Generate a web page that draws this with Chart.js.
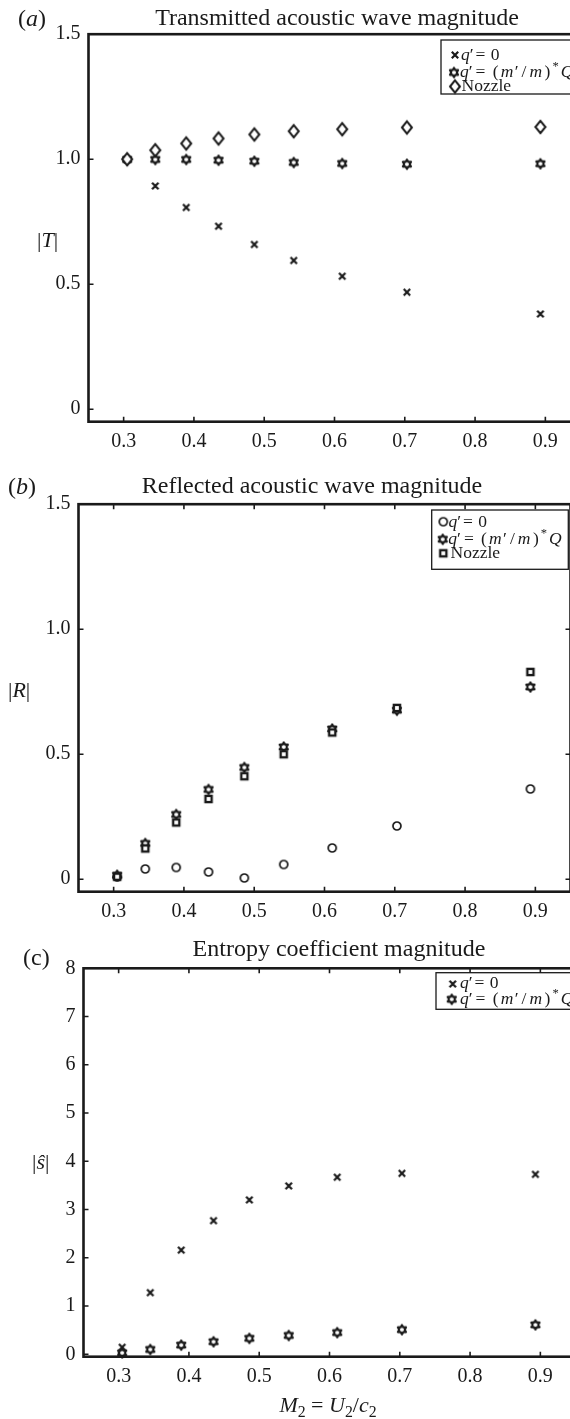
<!DOCTYPE html>
<html>
<head>
<meta charset="utf-8">
<script src="https://cdn.jsdelivr.net/npm/chart.js@4.4.1/dist/chart.umd.min.js"></script>
<style>
  html, body { margin: 0; padding: 0; background: #fff; overflow: hidden; width: 570px; height: 1419px; }
  .panel { position: absolute; left: 0; }
</style>
</head>
<body>
<canvas id="panelA" class="panel" width="600" height="470" style="top:0"></canvas>
<canvas id="panelB" class="panel" width="600" height="470" style="top:470px"></canvas>
<canvas id="panelC" class="panel" width="600" height="479" style="top:940px"></canvas>
<script>
// values
const machNumbers = [0.305, 0.345, 0.389, 0.435, 0.486, 0.542, 0.611, 0.703, 0.893];
const xTickValues = [0.3, 0.4, 0.5, 0.6, 0.7, 0.8, 0.9];
const xTickLabels = ['0.3', '0.4', '0.5', '0.6', '0.7', '0.8', '0.9'];

const magTickValues = [0, 0.5, 1.0, 1.5];
const magTickLabels = ['0', '0.5', '1.0', '1.5'];
const entropyTickValues = [0, 1, 2, 3, 4, 5, 6, 7, 8];
const entropyTickLabels = ['0', '1', '2', '3', '4', '5', '6', '7', '8'];

const transmittedNoHeat = [0.998, 0.893, 0.807, 0.732, 0.659, 0.595, 0.532, 0.468, 0.381];
const transmittedMassHeat = [0.999, 0.999, 0.999, 0.996, 0.992, 0.987, 0.983, 0.980, 0.982];
const transmittedNozzle = [1.0, 1.036, 1.063, 1.083, 1.099, 1.112, 1.120, 1.127, 1.129];

const reflectedNoHeat = [0.009, 0.041, 0.047, 0.029, 0.005, 0.059, 0.125, 0.213, 0.361];
const reflectedMassHeat = [0.016, 0.143, 0.259, 0.359, 0.447, 0.529, 0.601, 0.676, 0.769];
const reflectedNozzle = [0.010, 0.123, 0.227, 0.321, 0.412, 0.500, 0.587, 0.685, 0.829];

const entropyNoHeat = [0.145, 1.277, 2.16, 2.77, 3.2, 3.49, 3.67, 3.75, 3.73];
const entropyMassHeat = [0.03, 0.10, 0.19, 0.26, 0.33, 0.39, 0.45, 0.51, 0.61];

const INK = '#1a1a1a';
const SERIF = '"Liberation Serif", "Times New Roman", serif';

function setFont(ctx, size, italic) {
  ctx.font = (italic ? 'italic ' : '') + size + 'px ' + SERIF;
}

// draw a line of text made of roman / italic / sub / sup pieces, plus small gaps
function drawRuns(ctx, x, y, size, runs, measureOnly) {
  let cx = x;
  runs.forEach(r => {
    if (r.gap) { cx += r.gap; return; }
    const s = (r.sub || r.sup) ? size * 0.72 : size;
    setFont(ctx, s, r.it);
    const dy = r.sub ? size * 0.25 : (r.sup ? -size * 0.4 : 0);
    if (!measureOnly) ctx.fillText(r.t, cx, y + dy);
    cx += ctx.measureText(r.t).width;
  });
  return cx - x;
}

function makeMarker(size, draw) {
  const c = document.createElement('canvas');
  c.width = size; c.height = size;
  const ctx = c.getContext('2d');
  ctx.translate(size / 2, size / 2);
  ctx.strokeStyle = INK;
  ctx.fillStyle = '#fff';
  draw(ctx);
  return c;
}

const crossMarker = makeMarker(12, ctx => {
  ctx.lineWidth = 2.2;
  ctx.beginPath();
  ctx.moveTo(-3.2, -3.2); ctx.lineTo(3.2, 3.2);
  ctx.moveTo(3.2, -3.2); ctx.lineTo(-3.2, 3.2);
  ctx.stroke();
});

const hexagramMarker = makeMarker(16, ctx => {
  const r = 4.7, ri = r / Math.sqrt(3);
  ctx.beginPath();
  for (let k = 0; k < 12; k++) {
    const a = -Math.PI / 2 + k * Math.PI / 6;
    const rr = k % 2 ? ri : r;
    ctx.lineTo(rr * Math.cos(a), rr * Math.sin(a));
  }
  ctx.closePath();
  ctx.fill();
  ctx.lineWidth = 2.1;
  ctx.lineJoin = 'round';
  ctx.stroke();
});

const diamondMarker = makeMarker(18, ctx => {
  ctx.beginPath();
  ctx.moveTo(0, -6.2); ctx.lineTo(5, 0); ctx.lineTo(0, 6.2); ctx.lineTo(-5, 0);
  ctx.closePath();
  ctx.fill();
  ctx.lineWidth = 2;
  ctx.stroke();
});

const circleMarker = makeMarker(14, ctx => {
  ctx.beginPath();
  ctx.arc(0, 0, 4, 0, Math.PI * 2);
  ctx.fill();
  ctx.lineWidth = 1.7;
  ctx.stroke();
});

const squareMarker = makeMarker(12, ctx => {
  ctx.fillRect(-3.1, -3.1, 6.2, 6.2);
  ctx.lineWidth = 2.4;
  ctx.strokeRect(-3.1, -3.1, 6.2, 6.2);
});

const qZero = [{ t: 'q', it: true }, { t: '′' }, { gap: 2 }, { t: '=' }, { gap: 1 }, { t: ' 0' }];
const qMass = [{ t: 'q', it: true }, { t: '′' }, { gap: 3 }, { t: '=' }, { gap: 3 }, { t: ' (' }, { gap: 2 },
  { t: 'm', it: true }, { gap: 1.5 }, { t: '′' }, { gap: 3 }, { t: '/' }, { gap: 3 }, { t: 'm', it: true },
  { gap: 2.5 }, { t: ')' }, { gap: 2 }, { t: '*', sup: true }, { gap: 2 }, { t: 'Q', it: true }];
const nozzleText = [{ t: 'Nozzle' }];

function framePlugin(cfg) {
  return {
    id: 'frame' + cfg.id,
    afterDraw(chart) {
      const { ctx, chartArea: a, scales } = chart;
      ctx.save();
      ctx.strokeStyle = INK;
      ctx.fillStyle = INK;

      // inward ticks on all sides
      const tl = 5;
      ctx.lineWidth = 1.6;
      ctx.beginPath();
      scales.x.ticks.forEach(t => {
        const px = scales.x.getPixelForValue(t.value);
        ctx.moveTo(px, a.bottom); ctx.lineTo(px, a.bottom - tl);
        if (cfg.topTicks) { ctx.moveTo(px, a.top); ctx.lineTo(px, a.top + tl); }
      });
      scales.y.ticks.forEach(t => {
        const py = scales.y.getPixelForValue(t.value);
        ctx.moveTo(a.left, py); ctx.lineTo(a.left + tl, py);
        ctx.moveTo(a.right, py); ctx.lineTo(a.right - tl, py);
      });
      ctx.stroke();
      ctx.lineWidth = 2.6;
      ctx.strokeRect(a.left, a.top, a.right - a.left, a.bottom - a.top);

      // panel tag and title
      ctx.textAlign = 'left';
      ctx.textBaseline = 'alphabetic';
      drawRuns(ctx, cfg.tag.x, cfg.tag.y, 24, cfg.tag.runs);
      setFont(ctx, 24, false);
      ctx.textAlign = 'center';
      ctx.fillText(cfg.title, cfg.titleX, cfg.titleY);
      ctx.textAlign = 'left';

      // axis labels
      drawRuns(ctx, cfg.yLabel.x, cfg.yLabel.y, 22, cfg.yLabel.runs);
      if (cfg.xLabel) {
        const w = drawRuns(ctx, 0, 0, 22, cfg.xLabel.runs, true);
        drawRuns(ctx, cfg.xLabel.cx - w / 2, cfg.xLabel.y, 22, cfg.xLabel.runs);
      }

      // legend box
      const lg = cfg.legend;
      ctx.fillStyle = '#fff';
      ctx.fillRect(lg.x, lg.y, lg.w, lg.h);
      ctx.lineWidth = 1.3;
      ctx.strokeRect(lg.x, lg.y, lg.w, lg.h);
      ctx.fillStyle = INK;
      lg.rows.forEach(row => {
        ctx.drawImage(row.marker, row.mx - row.marker.width / 2, row.my - row.marker.height / 2);
        drawRuns(ctx, row.tx, row.ty, 17.5, row.runs);
      });
      ctx.restore();
    }
  };
}

function buildPanel(cfg) {
  const canvas = document.getElementById(cfg.id);
  const H = canvas.height;
  const tickFont = { family: SERIF, size: 20 };
  return new Chart(canvas, {
    type: 'scatter',
    data: {
      datasets: cfg.series.map((s, i) => ({
        label: s.label,
        data: machNumbers.map((m, j) => ({ x: m, y: s.values[j] })),
        pointStyle: s.marker,
        pointRadius: 6,
        order: cfg.series.length - i,
        clip: false
      }))
    },
    options: {
      responsive: false,
      animation: false,
      devicePixelRatio: 1,
      events: [],
      layout: { padding: { top: cfg.area.top, right: canvas.width - cfg.area.right, left: 0, bottom: 0 } },
      plugins: { legend: { display: false }, tooltip: { enabled: false } },
      scales: {
        x: {
          type: 'linear', min: 0.25, max: 0.95,
          grid: { display: false, drawTicks: false }, border: { display: false },
          ticks: { font: tickFont, color: INK, padding: 8, maxRotation: 0, autoSkip: false,
            callback: (v, i) => xTickLabels[i] },
          afterBuildTicks: s => { s.ticks = xTickValues.map(v => ({ value: v })); },
          afterFit: s => { s.height = H - cfg.area.bottom; }
        },
        y: {
          type: 'linear', min: cfg.yMin, max: cfg.yMax,
          grid: { display: false, drawTicks: false }, border: { display: false },
          ticks: { font: tickFont, color: INK, padding: 8, autoSkip: false,
            callback: (v, i) => cfg.yTickLabels[i] },
          afterBuildTicks: s => { s.ticks = cfg.yTickValues.map(v => ({ value: v })); },
          afterFit: s => { s.width = cfg.area.left; }
        }
      }
    },
    plugins: [framePlugin(cfg)]
  });
}

buildPanel({
  id: 'panelA',
  area: { left: 88.5, right: 580.5, top: 34.2, bottom: 421.7 },
  yMin: -0.05, yMax: 1.5,
  yTickValues: magTickValues, yTickLabels: magTickLabels,
  topTicks: false,
  series: [
    { label: "q' = 0", values: transmittedNoHeat, marker: crossMarker },
    { label: "q' = (m'/m)*Q", values: transmittedMassHeat, marker: hexagramMarker },
    { label: 'Nozzle', values: transmittedNozzle, marker: diamondMarker }
  ],
  tag: { x: 18, y: 26, runs: [{ t: '(' }, { t: 'a', it: true }, { t: ')' }] },
  title: 'Transmitted acoustic wave magnitude', titleX: 337, titleY: 25,
  yLabel: { x: 37, y: 247, runs: [{ t: '|' }, { t: 'T', it: true }, { t: '|' }] },
  legend: {
    x: 441, y: 40, w: 170, h: 54,
    rows: [
      { marker: crossMarker, mx: 455, my: 55, tx: 461, ty: 59.5, runs: qZero },
      { marker: hexagramMarker, mx: 454, my: 72.5, tx: 460, ty: 77, runs: qMass },
      { marker: diamondMarker, mx: 455, my: 86.5, tx: 461.5, ty: 91, runs: nozzleText }
    ]
  }
});

buildPanel({
  id: 'panelB',
  area: { left: 78.5, right: 570.5, top: 34.2, bottom: 421.7 },
  yMin: -0.05, yMax: 1.5,
  yTickValues: magTickValues, yTickLabels: magTickLabels,
  topTicks: true,
  series: [
    { label: "q' = 0", values: reflectedNoHeat, marker: circleMarker },
    { label: "q' = (m'/m)*Q", values: reflectedMassHeat, marker: hexagramMarker },
    { label: 'Nozzle', values: reflectedNozzle, marker: squareMarker }
  ],
  tag: { x: 8, y: 24, runs: [{ t: '(' }, { t: 'b', it: true }, { t: ')' }] },
  title: 'Reflected acoustic wave magnitude', titleX: 312, titleY: 22.7,
  yLabel: { x: 8, y: 227, runs: [{ t: '|' }, { t: 'R', it: true }, { t: '|' }] },
  legend: {
    x: 431.7, y: 40, w: 136.6, h: 59.3,
    rows: [
      { marker: circleMarker, mx: 443.3, my: 51.7, tx: 448.5, ty: 56.7, runs: qZero },
      { marker: hexagramMarker, mx: 442.7, my: 69.3, tx: 448.3, ty: 74, runs: qMass },
      { marker: squareMarker, mx: 443.3, my: 83.3, tx: 450.5, ty: 88.3, runs: nozzleText }
    ]
  }
});

buildPanel({
  id: 'panelC',
  area: { left: 83.5, right: 575.5, top: 28.3, bottom: 416.7 },
  yMin: -0.05, yMax: 8,
  yTickValues: entropyTickValues, yTickLabels: entropyTickLabels,
  topTicks: true,
  series: [
    { label: "q' = 0", values: entropyNoHeat, marker: crossMarker },
    { label: "q' = (m'/m)*Q", values: entropyMassHeat, marker: hexagramMarker }
  ],
  tag: { x: 23, y: 25, runs: [{ t: '(c)' }] },
  title: 'Entropy coefficient magnitude', titleX: 339, titleY: 16,
  yLabel: { x: 32, y: 229, runs: [{ t: '|' }, { t: 'ŝ', it: true }, { t: '|' }] },
  xLabel: { cx: 328, y: 471.5, runs: [{ t: 'M', it: true }, { t: '2', sub: true }, { t: ' = ' },
    { t: 'U', it: true }, { t: '2', sub: true }, { t: '/' }, { t: 'c', it: true }, { t: '2', sub: true }] },
  legend: {
    x: 436, y: 32.7, w: 170, h: 36.6,
    rows: [
      { marker: crossMarker, mx: 452.7, my: 44, tx: 460, ty: 47.5, runs: qZero },
      { marker: hexagramMarker, mx: 451.7, my: 59.3, tx: 460, ty: 64, runs: qMass }
    ]
  }
});
</script>
</body>
</html>
